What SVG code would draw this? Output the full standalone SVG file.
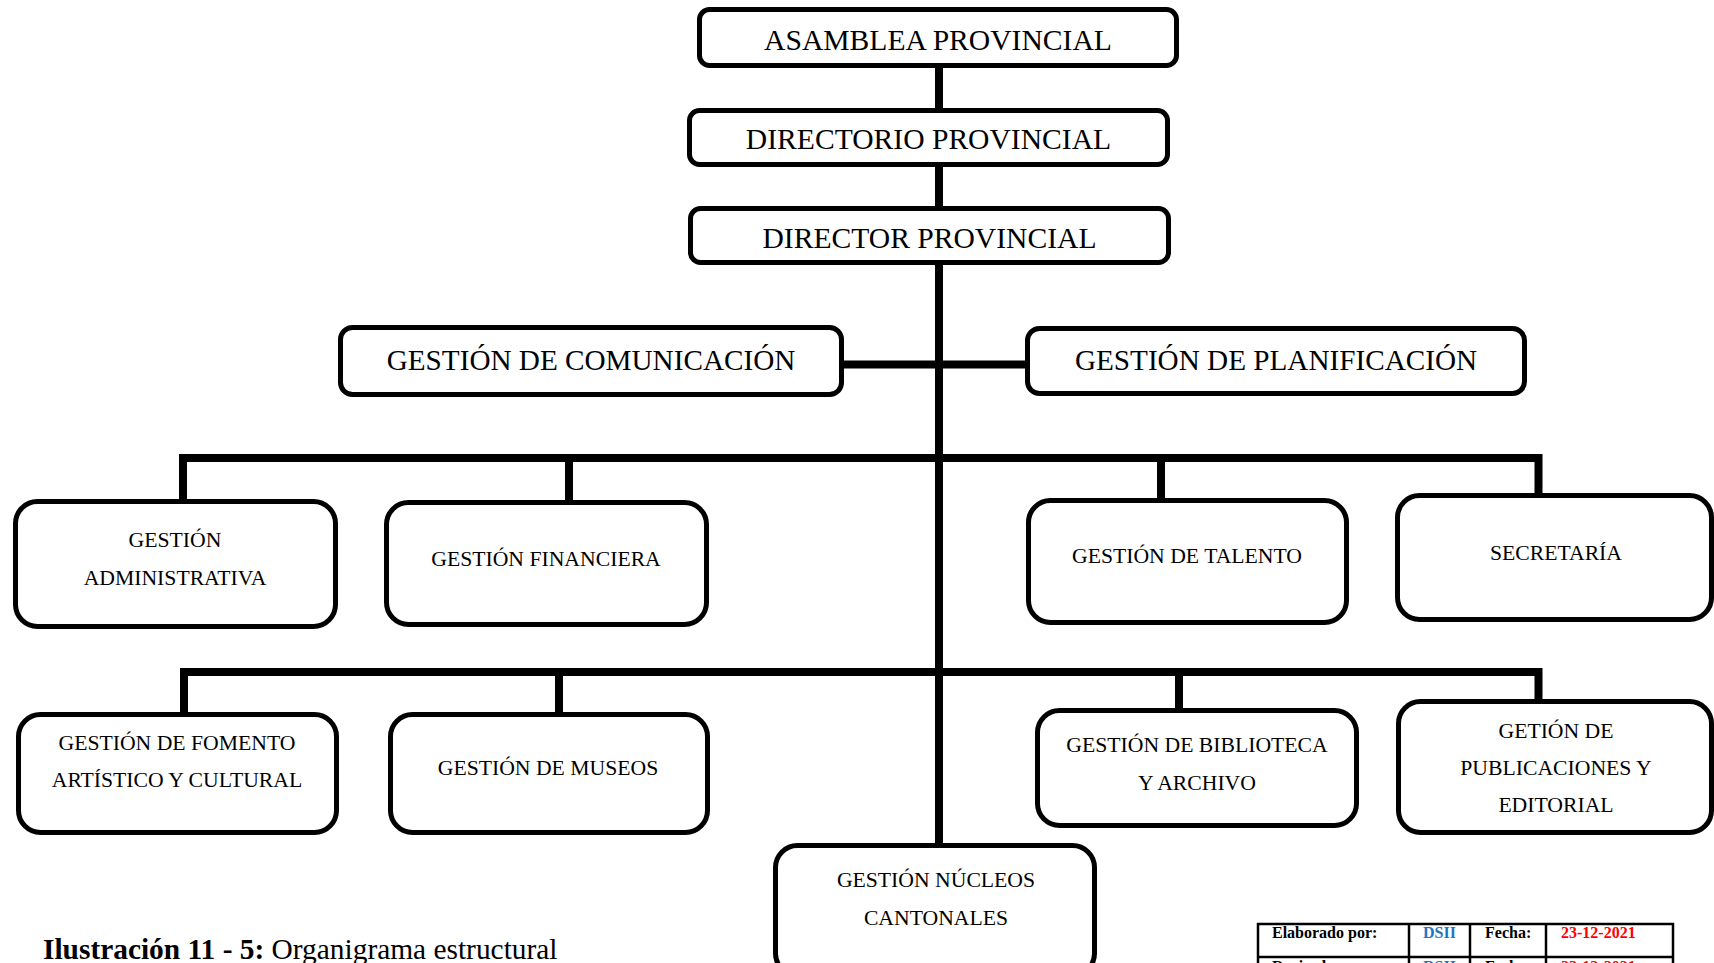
<svg xmlns="http://www.w3.org/2000/svg" width="1714" height="963" viewBox="0 0 1714 963">
  <style>
    .box { fill: #ffffff; stroke: #000000; stroke-width: 5; }
    .wire { fill: none; stroke: #000000; stroke-width: 8; stroke-linejoin: miter; stroke-linecap: butt; }
    .t-lg { font-family: "Liberation Serif", "Times New Roman", serif; font-size: 29.6px; fill: #000; text-anchor: middle; }
    .t-md { font-family: "Liberation Serif", "Times New Roman", serif; font-size: 29.2px; fill: #000; text-anchor: middle; }
    .t-sm { font-family: "Liberation Serif", "Times New Roman", serif; font-size: 21.7px; fill: #000; text-anchor: middle; }
    .tbl { fill: none; stroke: #000; stroke-width: 2.5; }
    .tbl-t { font-family: "Liberation Serif", "Times New Roman", serif; font-size: 16px; font-weight: bold; }
    .cap { font-family: "Liberation Serif", "Times New Roman", serif; font-size: 29.4px; fill: #000; }
  </style>

  <rect width="1714" height="963" fill="#ffffff"/>

  <!-- connectors -->
  <g id="connectors">
    <!-- main spine -->
    <line class="wire" x1="939" y1="66" x2="939" y2="110"/>
    <line class="wire" x1="939" y1="165" x2="939" y2="208"/>
    <line class="wire" x1="939" y1="263" x2="939" y2="846"/>
    <!-- staff link -->
    <line class="wire" x1="842" y1="364.5" x2="1028" y2="364.5"/>
    <!-- first bus -->
    <path class="wire" d="M183,501 V458 H1538.5 V496"/>
    <line class="wire" x1="569" y1="458" x2="569" y2="503"/>
    <line class="wire" x1="1161" y1="458" x2="1161" y2="501"/>
    <!-- second bus -->
    <path class="wire" d="M184,715 V672 H1538.5 V702"/>
    <line class="wire" x1="559" y1="672" x2="559" y2="715"/>
    <line class="wire" x1="1179" y1="672" x2="1179" y2="711"/>
  </g>

  <g id="asamblea">
    <rect class="box" x="699.5" y="9.5" width="477" height="56" rx="10"/>
    <text class="t-lg" x="938" y="50">ASAMBLEA PROVINCIAL</text>
  </g>
  <g id="directorio">
    <rect class="box" x="689.5" y="110.5" width="478" height="54" rx="10"/>
    <text class="t-lg" x="928.5" y="149">DIRECTORIO PROVINCIAL</text>
  </g>
  <g id="director">
    <rect class="box" x="690.5" y="208.5" width="478" height="54" rx="10"/>
    <text class="t-lg" x="929.5" y="248">DIRECTOR PROVINCIAL</text>
  </g>

  <g id="comunicacion">
    <rect class="box" x="340.5" y="327.5" width="501" height="67" rx="12"/>
    <text class="t-md" x="591" y="370">GESTIÓN DE COMUNICACIÓN</text>
  </g>
  <g id="planificacion">
    <rect class="box" x="1027.5" y="328.5" width="497" height="65" rx="12"/>
    <text class="t-md" x="1276" y="370">GESTIÓN DE PLANIFICACIÓN</text>
  </g>

  <g id="administrativa">
    <rect class="box" x="15.5" y="501.5" width="320" height="125" rx="22"/>
    <text class="t-sm" x="175" y="547">GESTIÓN</text>
    <text class="t-sm" x="175" y="585">ADMINISTRATIVA</text>
  </g>
  <g id="financiera">
    <rect class="box" x="386.5" y="502.5" width="320" height="122" rx="22"/>
    <text class="t-sm" x="546" y="566">GESTIÓN FINANCIERA</text>
  </g>
  <g id="talento">
    <rect class="box" x="1028.5" y="500.5" width="318" height="122" rx="22"/>
    <text class="t-sm" x="1187" y="563">GESTIÓN DE TALENTO</text>
  </g>
  <g id="secretaria">
    <rect class="box" x="1397.5" y="495.5" width="314" height="124" rx="22"/>
    <text class="t-sm" x="1556" y="560">SECRETARÍA</text>
  </g>

  <g id="fomento">
    <rect class="box" x="18.5" y="714.5" width="318" height="118" rx="22"/>
    <text class="t-sm" x="177" y="750">GESTIÓN DE FOMENTO</text>
    <text class="t-sm" x="177" y="787">ARTÍSTICO Y CULTURAL</text>
  </g>
  <g id="museos">
    <rect class="box" x="390.5" y="714.5" width="317" height="118" rx="22"/>
    <text class="t-sm" x="548" y="775">GESTIÓN DE MUSEOS</text>
  </g>
  <g id="biblioteca">
    <rect class="box" x="1037.5" y="710.5" width="319" height="115" rx="22"/>
    <text class="t-sm" x="1197" y="752">GESTIÓN DE BIBLIOTECA</text>
    <text class="t-sm" x="1197" y="790">Y ARCHIVO</text>
  </g>
  <g id="publicaciones">
    <rect class="box" x="1398.5" y="701.5" width="313" height="131" rx="22"/>
    <text class="t-sm" x="1556" y="738">GETIÓN DE</text>
    <text class="t-sm" x="1556" y="775">PUBLICACIONES Y</text>
    <text class="t-sm" x="1556" y="812">EDITORIAL</text>
  </g>
  <g id="nucleos">
    <rect class="box" x="775.5" y="845.5" width="319" height="130" rx="22"/>
    <text class="t-sm" x="936" y="887">GESTIÓN NÚCLEOS</text>
    <text class="t-sm" x="936" y="925">CANTONALES</text>
  </g>

  <!-- caption -->
  <text class="cap" x="43" y="959"><tspan font-weight="bold">Ilustración 11 - 5:</tspan> Organigrama estructural</text>

  <!-- revision table; its second row runs past the lower edge -->
  <g id="revision-table">
    <rect class="tbl" x="1258" y="924" width="415" height="80"/>
    <line class="tbl" x1="1258" y1="957" x2="1673" y2="957"/>
    <line class="tbl" x1="1409" y1="924" x2="1409" y2="1004"/>
    <line class="tbl" x1="1470" y1="924" x2="1470" y2="1004"/>
    <line class="tbl" x1="1546" y1="924" x2="1546" y2="1004"/>
    <text class="tbl-t" x="1272" y="938" fill="#000">Elaborado por:</text>
    <text class="tbl-t" x="1423" y="938" fill="#1a75c9">DSII</text>
    <text class="tbl-t" x="1485" y="938" fill="#000">Fecha:</text>
    <text class="tbl-t" x="1561" y="938" fill="#ff0000">23-12-2021</text>
    <text class="tbl-t" x="1272" y="972" fill="#000">Revisado por:</text>
    <text class="tbl-t" x="1423" y="972" fill="#1a75c9">DSII</text>
    <text class="tbl-t" x="1485" y="972" fill="#000">Fecha:</text>
    <text class="tbl-t" x="1561" y="972" fill="#ff0000">23-12-2021</text>
  </g>
</svg>
